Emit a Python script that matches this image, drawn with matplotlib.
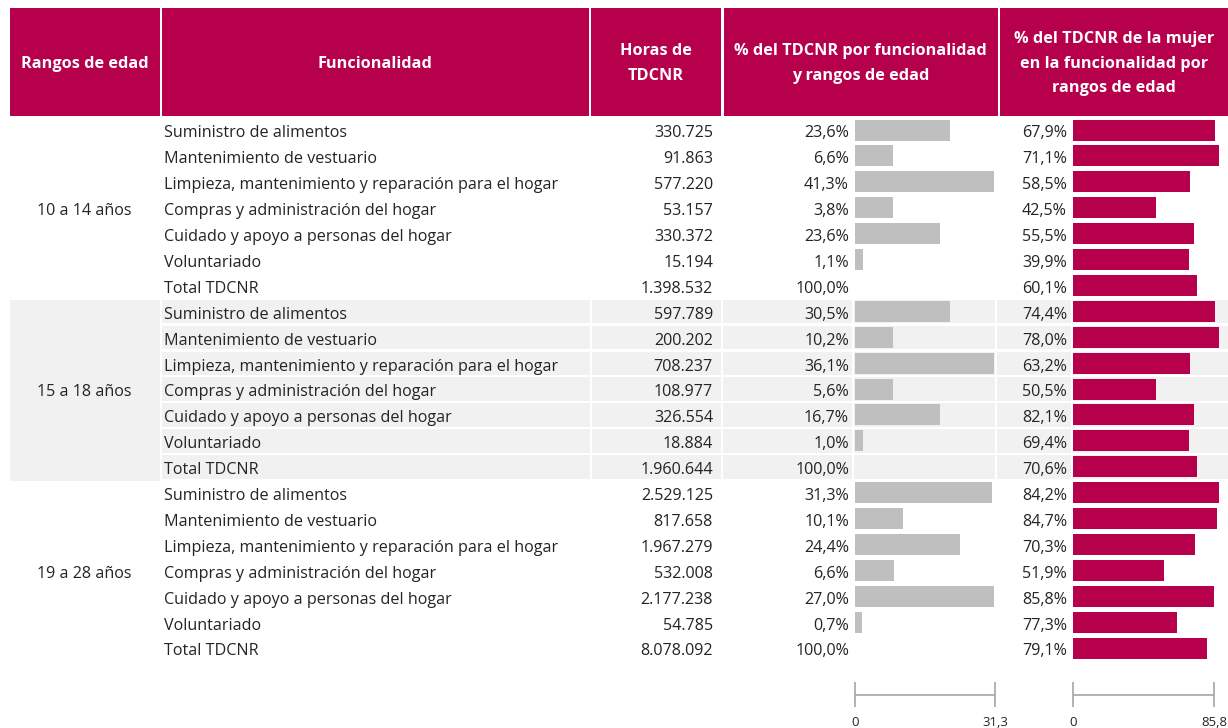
import matplotlib
matplotlib.use("Agg")
import matplotlib.pyplot as plt
from matplotlib.patches import Rectangle
import numpy as np

# ---------------- data ----------------
age_groups = ["10 a 14 años", "15 a 18 años", "19 a 28 años"]
functions = [
    "Suministro de alimentos",
    "Mantenimiento de vestuario",
    "Limpieza, mantenimiento y reparación para el hogar",
    "Compras y administración del hogar",
    "Cuidado y apoyo a personas del hogar",
    "Voluntariado",
    "Total TDCNR",
]
horas_10_14 = [330725, 91863, 577220, 53157, 330372, 15194, 1398532]
horas_15_18 = [597789, 200202, 708237, 108977, 326554, 18884, 1960644]
horas_19_28 = [2529125, 817658, 1967279, 532008, 2177238, 54785, 8078092]

pct_func_10_14 = [23.6, 6.6, 41.3, 3.8, 23.6, 1.1, 100.0]
pct_func_15_18 = [30.5, 10.2, 36.1, 5.6, 16.7, 1.0, 100.0]
pct_func_19_28 = [31.3, 10.1, 24.4, 6.6, 27.0, 0.7, 100.0]

pct_mujer_10_14 = [67.9, 71.1, 58.5, 42.5, 55.5, 39.9, 60.1]
pct_mujer_15_18 = [74.4, 78.0, 63.2, 50.5, 82.1, 69.4, 70.6]
pct_mujer_19_28 = [84.2, 84.7, 70.3, 51.9, 85.8, 77.3, 79.1]

# bar lengths as drawn in the picture (axis units); no bar on total rows
grey_bar_10_14 = [21.2, 8.5, 31.1, 8.5, 19.0, 1.8, np.nan]
grey_bar_15_18 = [21.2, 8.5, 31.1, 8.5, 19.0, 1.8, np.nan]
grey_bar_19_28 = [30.6, 10.7, 23.5, 8.7, 31.1, 1.6, np.nan]
pink_bar_10_14 = [86.4, 88.8, 71.2, 50.5, 73.6, 70.6, 75.5]
pink_bar_15_18 = [86.4, 88.8, 71.2, 50.5, 73.6, 70.6, 75.5]
pink_bar_19_28 = [88.8, 87.6, 74.3, 55.4, 85.8, 63.3, 81.6]

grey_axis_max = 31.3
pink_axis_max = 85.8

headers = ["Rangos de edad", "Funcionalidad", "Horas de\nTDCNR",
           "% del TDCNR por funcionalidad\ny rangos de edad",
           "% del TDCNR de la mujer\nen la funcionalidad por\nrangos de edad"]

# ---------------- style ----------------
PINK = "#B7004B"
GREY_BAR = "#BFBFBF"
SHADE = "#F1F1F1"
TXT = "#252423"
AXC = "#A6A6A6"
FAM = "Open Sans"

W, H = 1228, 728
fig = plt.figure(figsize=(W / 100, H / 100), dpi=100)
fig.patch.set_facecolor("white")


def px_axes(x0, y0, x1, y1):
    return fig.add_axes([x0 / W, 1 - y1 / H, (x1 - x0) / W, (y1 - y0) / H])


def fit_size(text, target, weight="normal"):
    t = fig.text(0, 0, text, fontsize=10, family=FAM, weight=weight)
    r = fig.canvas.get_renderer()
    w = t.get_window_extent(r).width
    t.remove()
    return 10 * target / w


fs_body = fit_size("Limpieza, mantenimiento y reparación para el hogar", 393)
fs_head = fit_size("% del TDCNR por funcionalidad", 252, "bold")
fs_axis = fs_body * 0.82

def fmt_int(v):
    return f"{v:,}".replace(",", ".")


def fmt_pct(v):
    return f"{v:.1f}".replace(".", ",") + "%"


# ---------------- header ----------------
col_edges = [(10, 159.5), (162, 588.5), (591, 721), (724, 997.5), (1000, 1228)]
hax = px_axes(0, 8, W, 116)
hax.set_xlim(0, W)
hax.set_ylim(108, 0)
hax.axis("off")
for (x0, x1), lab in zip(col_edges, headers):
    hax.add_patch(Rectangle((x0, 0), x1 - x0, 108, color=PINK, lw=0))
    hax.text((x0 + x1) / 2, 55.5, lab, ha="center", va="center", color="white",
             fontsize=fs_head, fontweight="bold", family=FAM, linespacing=1.72,
             multialignment="center")

# ---------------- table body ----------------
ROW_TOP, ROW_BOT = 118.4, 662.3
nrows = 21
tax = px_axes(0, ROW_TOP, W, ROW_BOT)
tax.set_xlim(0, W)
tax.set_ylim(nrows, 0)
tax.axis("off")

horas_all = [horas_10_14, horas_15_18, horas_19_28]
pfunc_all = [pct_func_10_14, pct_func_15_18, pct_func_19_28]
pmuj_all = [pct_mujer_10_14, pct_mujer_15_18, pct_mujer_19_28]
gbar_all = [grey_bar_10_14, grey_bar_15_18, grey_bar_19_28]
pbar_all = [pink_bar_10_14, pink_bar_15_18, pink_bar_19_28]

nf = len(functions)
# shading of the middle group
g = 1
tax.add_patch(Rectangle((10, g * nf), 150, nf, color=SHADE, lw=0, zorder=0))
cell_x = [(162, 589.5), (592, 720.5), (723, 851.5), (854, 995), (997, 1070.5), (1072.5, 1228)]
gap = 2.2 / 25.9
for i in range(nf):
    r = g * nf + i
    for (x0, x1) in cell_x:
        tax.add_patch(Rectangle((x0, r), x1 - x0, 1 - gap, color=SHADE, lw=0, zorder=0))

TOFF = 0.58  # text baseline offset within a row
for gi, age in enumerate(age_groups):
    base = gi * nf
    tax.text(84, base + 3 + TOFF, age, ha="center", va="center", color=TXT,
             fontsize=fs_body, family=FAM)
    for i, name in enumerate(functions):
        yc = base + i + TOFF
        tax.text(164, yc, name, ha="left", va="center", color=TXT, fontsize=fs_body, family=FAM)
        tax.text(713, yc, fmt_int(horas_all[gi][i]), ha="right", va="center", color=TXT,
                 fontsize=fs_body, family=FAM)
        tax.text(849, yc, fmt_pct(pfunc_all[gi][i]), ha="right", va="center", color=TXT,
                 fontsize=fs_body, family=FAM)
        tax.text(1067, yc, fmt_pct(pmuj_all[gi][i]), ha="right", va="center", color=TXT,
                 fontsize=fs_body, family=FAM)

# ---------------- bars ----------------
GX0, GX1 = 855, 995
PX0, PX1 = 1073, 1214
gax = px_axes(GX0, ROW_TOP, GX1, ROW_BOT)
pax = px_axes(PX0, ROW_TOP, PX1, ROW_BOT)
ypos = np.arange(nrows) + 0.5 - 0.05
gvals = np.concatenate(gbar_all)
pvals = np.concatenate(pbar_all)
for ax, vals, col, mx in [(gax, gvals, GREY_BAR, grey_axis_max), (pax, pvals, PINK, pink_axis_max)]:
    ax.set_xlim(0, mx)
    ax.set_ylim(nrows, 0)
    ax.axis("off")
    ax.patch.set_alpha(0)
    mask = ~np.isnan(vals)
    bars = ax.barh(ypos[mask], vals[mask], height=0.81, color=col, lw=0)
    for b in bars:
        b.set_clip_on(False)

# ---------------- small axes at bottom ----------------
for (x0, x1, mx) in [(GX0, GX1, grey_axis_max), (PX0, PX1, pink_axis_max)]:
    a = px_axes(x0, 682, x1, 707)
    a.set_xlim(0, mx)
    a.set_ylim(0, 1)
    a.axis("off")
    a.plot([0, mx], [0.5, 0.5], color=AXC, lw=1.2, clip_on=False, solid_capstyle="butt")
    a.vlines([0, mx], 0, 1, color=AXC, lw=1.2, clip_on=False)
    a.text(0, -0.6, "0", ha="center", va="center", fontsize=fs_axis, color=TXT, family=FAM)
    a.text(mx, -0.6, fmt_pct(mx)[:-1], ha="center", va="center", fontsize=fs_axis,
           color=TXT, family=FAM, clip_on=False)

fig.savefig("out.png", dpi=100, facecolor="white")
